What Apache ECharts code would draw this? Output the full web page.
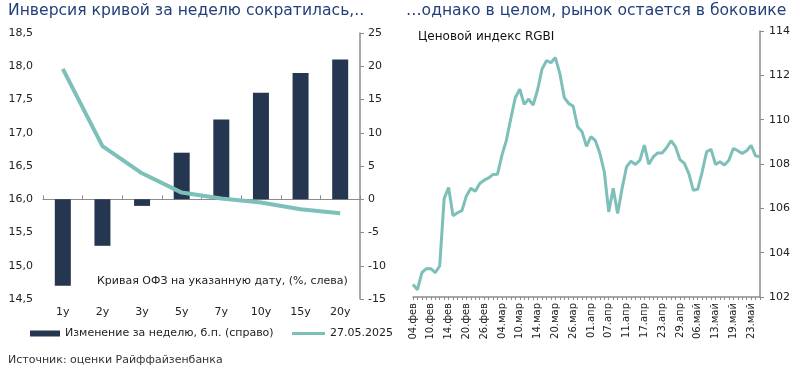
<!DOCTYPE html>
<html>
<head>
<meta charset="utf-8">
<script src="https://cdn.jsdelivr.net/npm/echarts@6/dist/echarts.min.js"></script>
<style>
html,body{margin:0;padding:0;background:#fff;}
#chart{width:800px;height:373px;}
</style>
</head>
<body>
<div id="chart"></div>
<script>
// ---- Left chart data ----
const tenors = ['1y','2y','3y','5y','7y','10y','15y','20y'];
const weeklyChange = [-13, -7, -1, 7, 12, 16, 19, 21];          // б.п., right axis
const curve2705 = [17.96, 16.80, 16.39, 16.10, 16.01, 15.95, 15.85, 15.79]; // %, left axis
const leftTicks = [14.5, 15.0, 15.5, 16.0, 16.5, 17.0, 17.5, 18.0, 18.5];
const rightTicks = [-15, -10, -5, 0, 5, 10, 15, 20, 25];

// ---- Right chart data ----
const rgbiDates = ['04.фев','05.фев','06.фев','07.фев','10.фев','11.фев','12.фев','13.фев','14.фев','17.фев','18.фев','19.фев','20.фев','21.фев','24.фев','25.фев','26.фев','27.фев','28.фев',
'03.мар','04.мар','05.мар','06.мар','07.мар','10.мар','11.мар','12.мар','13.мар','14.мар','17.мар','18.мар','19.мар','20.мар','21.мар','24.мар','25.мар','26.мар','27.мар','28.мар','31.мар',
'01.апр','02.апр','03.апр','04.апр','07.апр','08.апр','09.апр','10.апр','11.апр','14.апр','15.апр','16.апр','17.апр','18.апр','21.апр','22.апр','23.апр','24.апр','25.апр','28.апр','29.апр','30.апр',
'02.май','05.май','06.май','07.май','08.май','12.май','13.май','14.май','15.май','16.май','19.май','20.май','21.май','22.май','23.май','26.май','27.май'];
const rgbiValues = [102.56,102.33,103.10,103.28,103.28,103.10,103.40,106.44,106.94,105.66,
105.80,105.90,106.56,106.90,106.77,107.12,107.27,107.37,107.53,107.54,
108.40,109.08,110.06,111.00,111.37,110.69,110.93,110.66,111.34,112.28,
112.66,112.57,112.80,112.09,111.00,110.73,110.61,109.68,109.45,108.80,
109.23,109.05,108.48,107.65,105.84,106.90,105.77,106.90,107.87,108.13,
107.98,108.17,108.85,107.99,108.32,108.50,108.50,108.73,109.05,108.78,
108.20,108.03,107.57,106.82,106.86,107.65,108.55,108.66,107.98,108.10,
107.95,108.17,108.70,108.60,108.48,108.60,108.84,108.37,108.32];
const rgbiTicks = [102, 104, 106, 108, 110, 112, 114];

const FONT = 'DejaVu Sans';
const TEAL = '#7dbfb9';
const NAVY = '#243650';
const AXIS_GREY = '#8c8c8c';
const TXT = '#222';
const BAR_NAME = 'Изменение за неделю, б.п. (справо)';
const LINE_NAME = '27.05.2025';

const chart = echarts.init(document.getElementById('chart'), null, {renderer: 'canvas'});
const option = {
  animation: false,
  backgroundColor: '#fff',
  textStyle: {fontFamily: FONT},
  grid: [
    {left: 43, right: 440, top: 33, bottom: 74},
    {left: 413, right: 40, top: 31, bottom: 76}
  ],
  xAxis: [
    {
      type: 'category', gridIndex: 0, data: tenors,
      axisLine: {show: false}, axisTick: {show: false},
      axisLabel: {color: TXT, fontSize: 11, margin: 8, fontFamily: FONT}
    },
    {
      type: 'category', gridIndex: 0, data: tenors, position: 'bottom',
      axisLine: {show: true, onZero: true, onZeroAxisIndex: 1, lineStyle: {color: AXIS_GREY, width: 1}},
      axisTick: {show: true, inside: true, length: 4, lineStyle: {color: AXIS_GREY}},
      axisLabel: {show: false}
    },
    {
      type: 'category', gridIndex: 1, data: rgbiDates, boundaryGap: false,
      axisLine: {show: true, lineStyle: {color: AXIS_GREY, width: 1.5}},
      axisTick: {show: true, interval: 0, length: 3, lineStyle: {color: AXIS_GREY}},
      axisLabel: {interval: 3, rotate: 90, color: TXT, fontSize: 10, margin: 6, fontFamily: FONT}
    }
  ],
  yAxis: [
    {
      type: 'value', gridIndex: 0, position: 'left',
      min: leftTicks[0], max: leftTicks[leftTicks.length - 1], interval: 0.5,
      axisLine: {show: false}, axisTick: {show: false}, splitLine: {show: false},
      axisLabel: {color: TXT, fontSize: 11, margin: 10, fontFamily: FONT,
        formatter: v => v.toFixed(1).replace('.', ',')}
    },
    {
      type: 'value', gridIndex: 0, position: 'right',
      min: rightTicks[0], max: rightTicks[rightTicks.length - 1], interval: 5,
      axisLine: {show: true, lineStyle: {color: AXIS_GREY, width: 1.5}},
      axisTick: {show: true, length: 4, lineStyle: {color: AXIS_GREY}},
      splitLine: {show: false},
      axisLabel: {color: TXT, fontSize: 11, margin: 8, fontFamily: FONT}
    },
    {
      type: 'value', gridIndex: 1, position: 'right',
      min: rgbiTicks[0], max: rgbiTicks[rgbiTicks.length - 1], interval: 2,
      axisLine: {show: true, lineStyle: {color: AXIS_GREY, width: 1.5}},
      axisTick: {show: true, length: 4, lineStyle: {color: AXIS_GREY}},
      splitLine: {show: false},
      axisLabel: {color: TXT, fontSize: 11, margin: 9, fontFamily: FONT}
    }
  ],
  legend: [
    {
      left: 25, top: 323, itemWidth: 30, itemHeight: 6, itemGap: 15,
      textStyle: {color: TXT, fontSize: 11, fontFamily: FONT},
      data: [{name: BAR_NAME, icon: 'rect'}]
    },
    {
      left: 287, top: 323, itemWidth: 33, itemHeight: 3, itemGap: 2,
      textStyle: {color: TXT, fontSize: 11, fontFamily: FONT},
      data: [{name: LINE_NAME, icon: 'rect'}]
    }
  ],
  series: [
    {
      name: BAR_NAME, type: 'bar',
      xAxisIndex: 0, yAxisIndex: 1, data: weeklyChange,
      barWidth: 16, itemStyle: {color: NAVY}
    },
    {
      name: LINE_NAME, type: 'line', xAxisIndex: 0, yAxisIndex: 0,
      data: curve2705, symbol: 'none', smooth: false,
      lineStyle: {color: TEAL, width: 4}, itemStyle: {color: TEAL}
    },
    {
      name: 'RGBI', type: 'line', xAxisIndex: 2, yAxisIndex: 2,
      data: rgbiValues, symbol: 'none',
      lineStyle: {color: TEAL, width: 3}, itemStyle: {color: TEAL}
    }
  ],
  graphic: [
    {type: 'text', left: 8, top: 3, style: {text: 'Инверсия кривой за неделю сократилась,..', fill: '#24407a', font: '15.6px "DejaVu Sans"'}},
    {type: 'text', left: 406, top: 3, style: {text: '…однако в целом, рынок остается в боковике', fill: '#24407a', font: '15.6px "DejaVu Sans"'}},
    {type: 'text', left: 418, top: 31, style: {text: 'Ценовой индекс RGBI', fill: '#111', font: '12px "DejaVu Sans"'}},
    {type: 'text', left: 97, top: 276, style: {text: 'Кривая ОФЗ на указанную дату, (%, слева)', fill: TXT, font: '11px "DejaVu Sans"'}},
    {type: 'text', left: 8, top: 355, style: {text: 'Источник: оценки Райффайзенбанка', fill: '#333', font: '11px "DejaVu Sans"'}}
  ]
};
chart.setOption(option);
</script>
</body>
</html>
